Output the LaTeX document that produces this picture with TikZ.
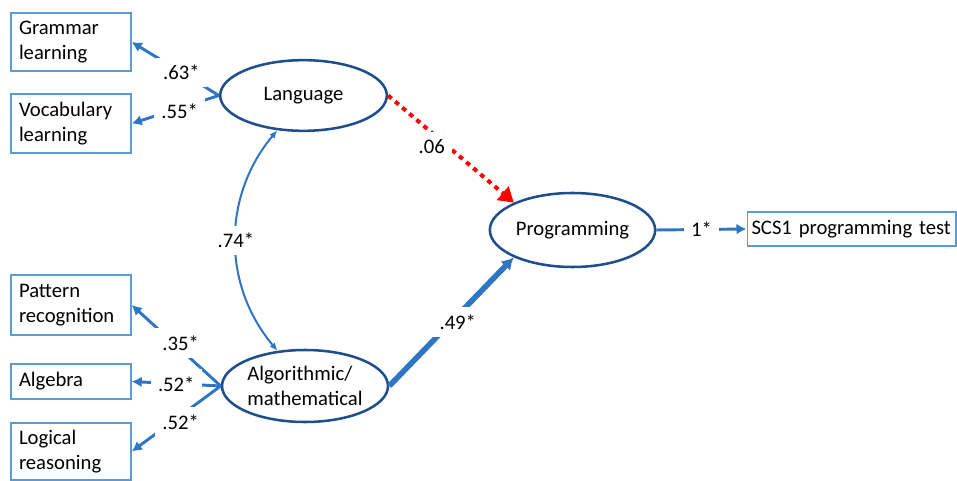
\documentclass[tikz,border=0pt]{standalone}
\usepackage{fontspec}
\setmainfont{Carlito}
\usetikzlibrary{arrows.meta,shapes.geometric}
\definecolor{arr}{RGB}{46,117,196}
\definecolor{ell}{RGB}{31,78,140}
\definecolor{bx}{RGB}{91,155,213}
\begin{document}
\begin{tikzpicture}[x=0.75pt,y=0.75pt,
  font=\fontsize{15.5}{18.5}\selectfont,
  box/.style={draw=bx, line width=1.1pt, text width=78pt, align=left, inner xsep=6pt, inner ysep=0pt},
  lat/.style={ellipse, draw=ell, line width=1.9pt, inner sep=0pt, align=left},
  lbl/.style={fill=white, inner sep=5.5pt},
  ind/.style={draw=arr, line width=2.2pt, -{Latex[length=7.5pt,width=8pt]}},
  cor/.style={draw=arr, line width=1.5pt, {Latex[length=6pt,width=5pt]}-{Latex[length=6pt,width=5pt]}},
  reg/.style={draw=arr, line width=4.2pt, -{Latex[length=9pt,width=10pt]}},
  nsreg/.style={draw=red, line width=3pt, dash pattern=on 3.5pt off 3.5pt, -{Triangle[length=11pt,width=13pt]}}
]
\useasboundingbox (0,0) rectangle (957,-481);

\node[box, minimum height=43.5pt] (gram) at (71,-42) {Grammar\\learning};
\node[box, minimum height=44.25pt] (vocab) at (71,-123.5) {Vocabulary\\learning};
\node[box, minimum height=45pt] (patt) at (71,-305) {Pattern\\recognition};
\node[box, minimum height=26.25pt] (algb) at (71,-381.5) {Algebra};
\node[box, minimum height=42.75pt] (logi) at (71,-451.5) {Logical\\reasoning};
\node[box, text width=150pt, inner xsep=3.2pt, minimum height=25.5pt] (scs) at (851.5,-229) {SCS1 programming test};

\node[lat, minimum width=125pt, minimum height=53pt] (lang) at (303.5,-95.5) {Language};
\node[lat, minimum width=124.5pt, minimum height=54pt] (alg) at (305,-386) {Algorithmic/\\mathematical};
\node[lat, minimum width=124pt, minimum height=55.5pt] (prog) at (572.5,-230) {Programming};

\draw[ind] (lang.west) -- node[lbl,pos=.43]{.63*} (gram.east);
\draw[ind] (lang.west) -- node[lbl,pos=.45,yshift=-2pt]{.55*} (vocab.east);
\draw[ind] (alg.west) -- node[lbl,pos=.45,yshift=5pt]{.35*} (patt.east);
\draw[ind] (alg.west) -- node[lbl,pos=.5]{.52*} (algb.east);
\draw[ind] (alg.west) -- node[lbl,pos=.45,yshift=-5pt]{.52*} (logi.east);

\draw[cor] (lang.233) to[bend right=40] node[lbl]{.74*} (alg.128);

\draw[nsreg] (lang.east) -- node[lbl,pos=.4,xshift=-5pt,yshift=-6pt]{.06} (prog.155);
\draw[reg] (alg.east) -- node[lbl,pos=.55,yshift=-5pt]{.49*} (prog.205);
\draw[ind] (prog.east) -- node[lbl]{1*} (scs.west);
\end{tikzpicture}
\end{document}
